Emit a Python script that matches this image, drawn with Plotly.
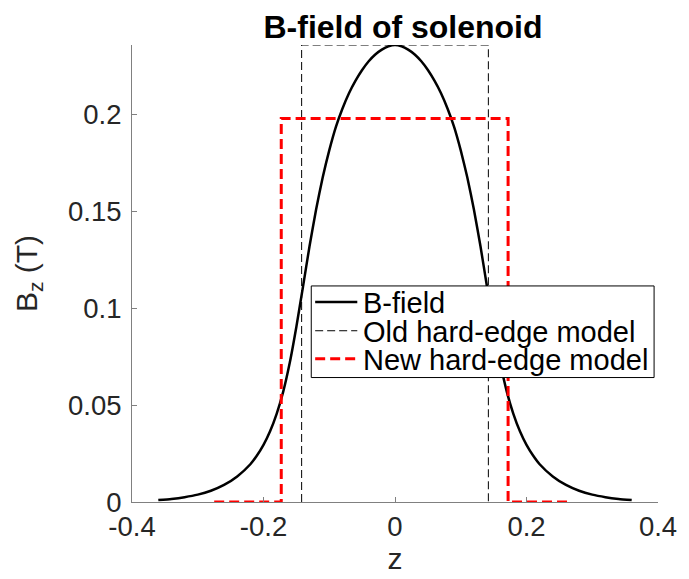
import plotly.graph_objects as go

# B-field curve (z in m, Bz in T)
z_field = [-0.36, -0.34, -0.32, -0.30, -0.28, -0.26, -0.24, -0.22, -0.21, -0.20, -0.19, -0.18,
           -0.17, -0.16, -0.15, -0.14, -0.13, -0.12, -0.11, -0.10, -0.09, -0.08, -0.07, -0.06,
           -0.05, -0.04, -0.03, -0.02, -0.01, 0.0,
           0.01, 0.02, 0.03, 0.04, 0.05, 0.06, 0.07, 0.08, 0.09, 0.10, 0.11, 0.12, 0.13, 0.14,
           0.15, 0.16, 0.17, 0.18, 0.19, 0.20, 0.21, 0.22, 0.24, 0.26, 0.28, 0.30, 0.32, 0.34, 0.36]
b_field = [0.0010, 0.0016, 0.0025, 0.0038, 0.0058, 0.0088, 0.0132, 0.0195, 0.0240, 0.0295, 0.0365, 0.0455,
           0.0570, 0.0720, 0.0905, 0.1110, 0.1320, 0.1510, 0.1675, 0.1815, 0.1935, 0.2030, 0.2110, 0.2175,
           0.2230, 0.2275, 0.2310, 0.2335, 0.2352, 0.2359,
           0.2352, 0.2335, 0.2310, 0.2275, 0.2230, 0.2175, 0.2110, 0.2030, 0.1935, 0.1815, 0.1675, 0.1510, 0.1320, 0.1110,
           0.0905, 0.0720, 0.0570, 0.0455, 0.0365, 0.0295, 0.0240, 0.0195, 0.0132, 0.0088, 0.0058, 0.0038, 0.0025, 0.0016, 0.0010]

# Old hard-edge model
z_old = [-0.142, -0.142, 0.142, 0.142]
b_old = [0.0, 0.2359, 0.2359, 0.0]

# New hard-edge model
z_new = [-0.275, -0.173, -0.173, 0.172, 0.172, 0.263]
b_new = [0.0, 0.0, 0.198, 0.198, 0.0, 0.0]

x_ticks = [-0.4, -0.2, 0.0, 0.2, 0.4]
x_tick_labels = ["-0.4", "-0.2", "0", "0.2", "0.4"]
y_ticks = [0.0, 0.05, 0.1, 0.15, 0.2]
y_tick_labels = ["0", "0.05", "0.1", "0.15", "0.2"]

legend_names = ["B-field", "Old hard-edge model", "New hard-edge model"]

FONT = "Liberation Sans, Arial, Helvetica, sans-serif"
TXT = "#262626"

W, H = 689, 579
L, R, T, B = 132, 20, 45, 75
PW, PH = W - L - R, H - T - B


def px(x):
    return (x - L) / PW


def py(y):
    return (H - B - y) / PH


styles = [dict(color="black", width=2.5),
          dict(color="black", width=1, dash="8px,4px"),
          dict(color="#ff0000", width=3, dash="10px,5px")]

fig = go.Figure()
fig.add_trace(go.Scatter(x=z_field, y=b_field, mode="lines", name=legend_names[0],
                         line=dict(styles[0], shape="spline", smoothing=0.5)))
fig.add_trace(go.Scatter(x=z_old, y=b_old, mode="lines", name=legend_names[1], line=styles[1]))
fig.add_trace(go.Scatter(x=z_new, y=b_new, mode="lines", name=legend_names[2], line=styles[2]))

# Legend drawn as a box with sample lines and texts
shapes = [dict(type="rect", xref="paper", yref="paper", x0=px(315), x1=px(665), y0=py(379), y1=py(287),
               fillcolor="white", line=dict(color="black", width=1), layer="above")]
annotations = []
row_y = [303, 332, 360]
for name, st, yy in zip(legend_names, styles, row_y):
    shapes.append(dict(type="line", xref="paper", yref="paper", x0=px(319), x1=px(362), y0=py(yy), y1=py(yy),
                       line=st, layer="above"))
    annotations.append(dict(text=name, xref="paper", yref="paper", x=px(366), y=py(yy + 1),
                            xanchor="left", yanchor="middle", showarrow=False,
                            font=dict(size=29, color="black", family=FONT)))

fig.update_layout(
    width=W, height=H,
    margin=dict(l=L, r=R, t=T, b=B),
    paper_bgcolor="white", plot_bgcolor="white",
    font=dict(family=FONT, color=TXT),
    title=dict(text="<b>B-field of solenoid</b>", x=403 / W, xanchor="center",
               y=1 - 27 / H, yanchor="middle", font=dict(size=32, color="black", family=FONT)),
    showlegend=False,
    shapes=shapes,
    annotations=annotations,
)
fig.update_xaxes(range=[-0.4, 0.4], tickvals=x_ticks, ticktext=x_tick_labels,
                 showgrid=False, zeroline=False, showline=True, linecolor="#808080", linewidth=1,
                 ticks="inside", ticklen=5, tickcolor="#808080", tickfont=dict(size=27.5, color=TXT),
                 title=dict(text="z", font=dict(size=30, color=TXT), standoff=4))
fig.update_yaxes(range=[0, 0.2359], tickvals=y_ticks, ticktext=y_tick_labels,
                 showgrid=False, zeroline=False, showline=True, linecolor="#808080", linewidth=1,
                 ticks="inside", ticklen=5, tickcolor="#808080", tickfont=dict(size=27.5, color=TXT),
                 ticklabelstandoff=4,
                 title=dict(text="B<sub>z</sub> (T)", font=dict(size=30, color=TXT), standoff=21))

fig.write_html("out.html")
